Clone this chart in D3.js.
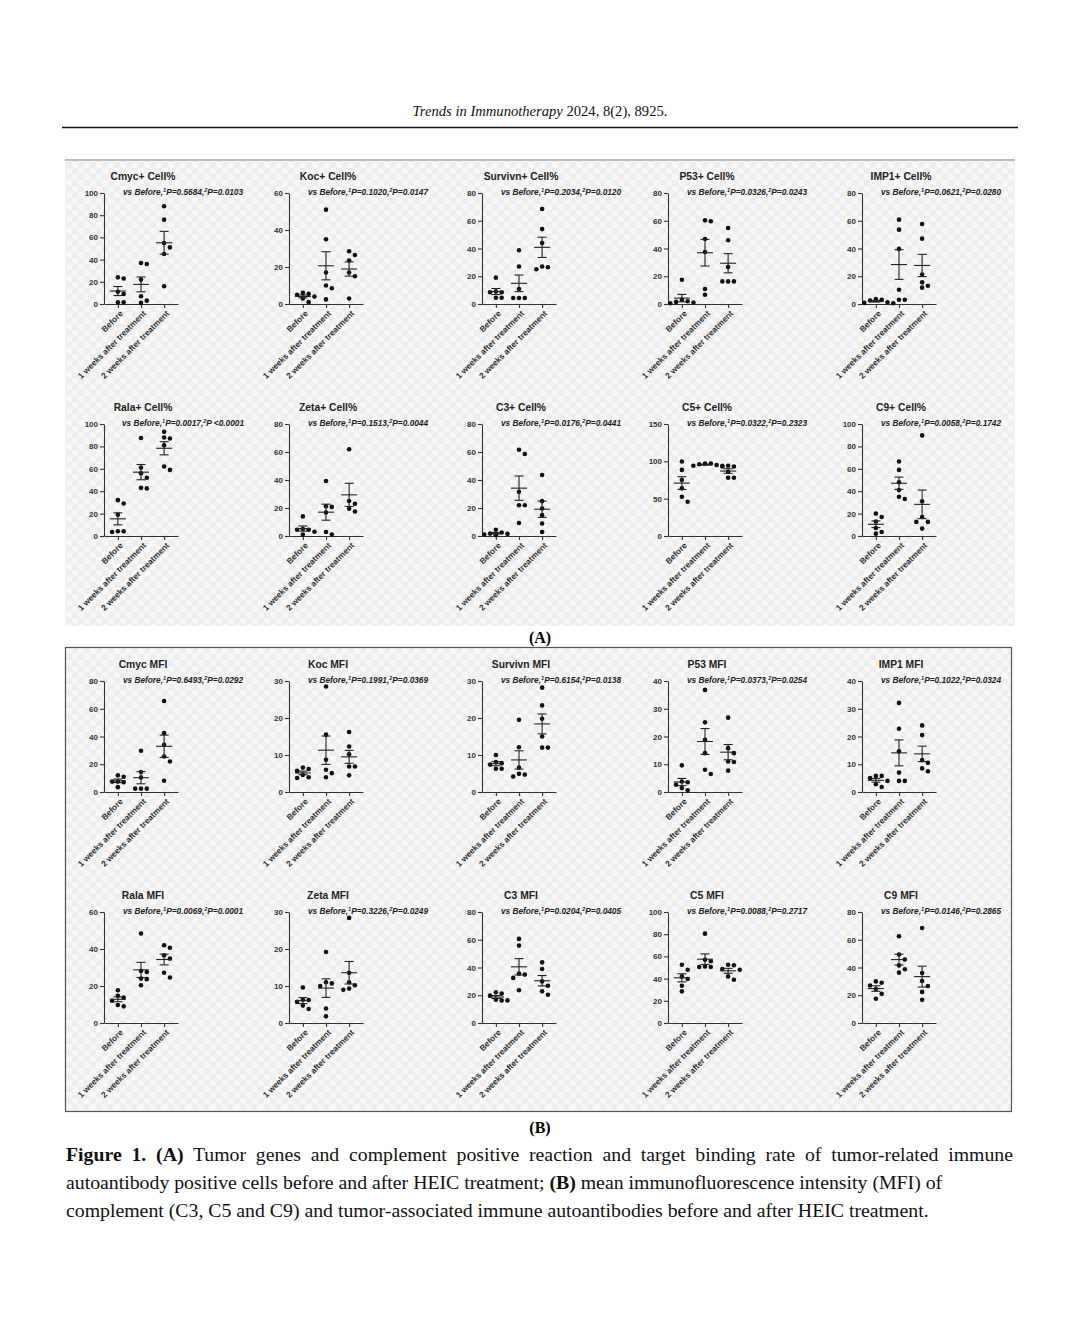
<!DOCTYPE html>
<html><head><meta charset="utf-8">
<script src="https://cdn.jsdelivr.net/npm/d3@7/dist/d3.min.js"></script>
<style>body{margin:0;background:#fff}</style>
</head><body>
<svg id="c" width="1080" height="1322"></svg>
<script>
// ---------------- DATA ----------------
const categories = ["Before", "1 weeks after treatment", "2 weeks after treatment"];
const titles = ["Cmyc+ Cell%","Koc+ Cell%","Survivn+ Cell%","P53+ Cell%","IMP1+ Cell%",
  "Rala+ Cell%","Zeta+ Cell%","C3+ Cell%","C5+ Cell%","C9+ Cell%",
  "Cmyc MFI","Koc MFI","Survivn MFI","P53 MFI","IMP1 MFI",
  "Rala MFI","Zeta MFI","C3 MFI","C5 MFI","C9 MFI"];
const p1Labels = ["0.5684","0.1020","0.2034","0.0326","0.0621","0.0017","0.1513","0.0176","0.0322","0.0058",
  "0.6493","0.1991","0.6154","0.0373","0.1022","0.0069","0.3226","0.0204","0.0088","0.0146"];
const p2Labels = ["0.0103","0.0147","0.0120","0.0243","0.0280","<0.0001","0.0044","0.0441","0.2323","0.1742",
  "0.0292","0.0369","0.0138","0.0254","0.0324","0.0001","0.0249","0.0405","0.2717","0.2865"];
const yTickLabels = [
  [0,20,40,60,80,100],[0,20,40,60],[0,20,40,60,80],[0,20,40,60,80],[0,20,40,60,80],
  [0,20,40,60,80,100],[0,20,40,60,80],[0,20,40,60,80],[0,50,100,150],[0,20,40,60,80,100],
  [0,20,40,60,80],[0,10,20,30],[0,10,20,30],[0,10,20,30,40],[0,10,20,30,40],
  [0,20,40,60],[0,10,20,30],[0,20,40,60,80],[0,20,40,60,80,100],[0,20,40,60,80]];

const cmycCell    = [[23,24,11,9,1.5,1.5],[36,37,22,7,1,3],[88,76,51,55,45,16]];
const kocCell     = [[5.5,6,5,3,4,1],[51,35,10,8.5,2.5,17],[28.5,26.5,23.5,17,15,3]];
const survivnCell = [[19,9,8.5,8.5,4.5,4.5],[38.7,27,10.8,4.3,4.3,4.3],[68.5,54,44,25,27,26.5]];
const p53Cell     = [[17.5,3,2,1,1.5,0.5],[60.3,59.6,46.9,37.5,10.8,6.7],[54.8,45.9,26.7,16.3,16.3,16.3]];
const imp1Cell    = [[3,2.5,3.5,1.2,0.8,0.5],[60.8,53.6,39.7,10.3,3.1,3.1],[57.7,47.1,21.2,11.8,15.6,13.2]];
const ralaCell    = [[32,29,19,3.6,4.2,4.2],[87.5,61,56,52,42.5,43],[93,87,88,81,59,62]];
const zetaCell    = [[14,4.5,5,4.5,1,3],[39.3,20.8,21.3,16.8,1,2.9],[62,25,23,17.5,19.5]];
const c3Cell      = [[4.5,2.5,1.7,1,0.5,1.5],[61.6,58.6,31.6,22,22,9.3],[43.6,24.9,19.6,14.9,8.9,2.9]];
const c5Cell      = [[99.7,88.5,75,63.8,52.5,45.8],[97,96,97,94,95,94],[93,94,93,78,78,86]];
const c9Cell      = [[17,20,13,7.2,2.1,3.6],[66.5,59,48,41,33,35],[89.8,31,17,12.6,12.6,6.6]];
const cmycMFI     = [[12,7.5,11,3.5,7,7.5],[29.7,14.4,10.5,2.4,2.4,2.4],[65.6,42.4,34,25.6,22,8.1]];
const kocMFI      = [[6.6,6.2,5.7,3.8,4.6,4],[28.5,15.5,8.7,5.1,6,4],[16.2,12.3,10.2,6.9,6.9,4.5]];
const survivnMFI  = [[10,7.8,7.4,8.1,6.3,6.3],[19.5,12.1,6.6,4.2,4.9,4.7],[28.2,23.4,19.8,15,12,12]];
const p53MFI      = [[9.6,3.8,3.5,2.6,1.4,0.6],[36.8,25.1,18.8,14,8,6.5],[26.8,15.8,14,11,10.8,7.7]];
const imp1MFI     = [[5.8,5,5.8,4,1.8,2.8],[32.1,22.8,14.7,7,4,4],[24,20.5,11.5,10.5,7.5,8.5]];
const ralaMFI     = [[17.7,14.7,13.8,12,9.7,9],[48.4,27.6,28.1,24,23.7,20.4],[42,40.7,36.6,34.8,27.2,24.6]];
const zetaMFI     = [[9.6,6.3,6.2,5.7,3.8,4.7],[19.2,10.7,10,11,3.9,1.8],[28.4,13.6,10.2,9,9.3,11]];
const c3MFI       = [[22.1,19.7,21.2,16.3,16.8,16.3],[60.6,55.8,35.6,34.9,32.5,23.6],[43.7,38.9,26.9,30,20.4,22.8]];
const c5MFI       = [[52.5,48,42,39.6,33.6,28.5],[80.5,50.4,50.4,55.6,57,51],[52.5,52,48.6,48,42,39]];
const c9MFI       = [[30,29,27,24.5,21,17.5],[62.5,49.4,45.8,41.5,38.7,36.3],[68.5,36,30.3,26.7,22.4,16.7]];

const panelData = [cmycCell,kocCell,survivnCell,p53Cell,imp1Cell,ralaCell,zetaCell,c3Cell,c5Cell,c9Cell,
  cmycMFI,kocMFI,survivnMFI,p53MFI,imp1MFI,ralaMFI,zetaMFI,c3MFI,c5MFI,c9MFI];

// ---------------- LAYOUT ----------------
const svg = d3.select("#c");
const colX = [104, 289, 482, 668, 862];
const rowY = [[193,304],[424,536],[681,792],[912,1023]];
const sans = "'Liberation Sans', Arial, sans-serif";
const serif = "'Liberation Serif', 'Times New Roman', serif";

const defs = svg.append("defs");
const pat = defs.append("pattern").attr("id","chk").attr("width",12).attr("height",12)
  .attr("patternUnits","userSpaceOnUse");
pat.append("rect").attr("width",12).attr("height",12).attr("fill","#f7f7f7");
pat.append("rect").attr("width",6).attr("height",6).attr("fill","#eeeeee");
pat.append("rect").attr("x",6).attr("y",6).attr("width",6).attr("height",6).attr("fill","#eeeeee");

// header
const hdr = svg.append("text").attr("x",540).attr("y",116).attr("text-anchor","middle")
  .attr("font-family",serif).attr("font-size",14.6).attr("fill","#111");
hdr.append("tspan").attr("font-style","italic").text("Trends in Immunotherapy");
hdr.append("tspan").text(" 2024, 8(2), 8925.");
svg.append("line").attr("x1",62).attr("x2",1018).attr("y1",127.5).attr("y2",127.5)
  .attr("stroke","#111").attr("stroke-width",1.4);

// backgrounds
svg.append("rect").attr("x",65).attr("y",159).attr("width",950).attr("height",467).attr("fill","url(#chk)");
svg.append("line").attr("x1",65).attr("x2",1015).attr("y1",160).attr("y2",160).attr("stroke","#888").attr("stroke-width",1.2);
svg.append("rect").attr("x",65.5).attr("y",647.5).attr("width",946).attr("height",464)
  .attr("fill","url(#chk)").attr("stroke","#555").attr("stroke-width",1.2);

svg.append("text").attr("x",540).attr("y",643).attr("text-anchor","middle").attr("font-family",serif)
  .attr("font-weight","bold").attr("font-size",16).text("(A)");
svg.append("text").attr("x",540).attr("y",1133).attr("text-anchor","middle").attr("font-family",serif)
  .attr("font-weight","bold").attr("font-size",16).text("(B)");

// caption
const capLines = [
  [["Figure 1. (A)",true],[" Tumor genes and complement positive reaction and target binding rate of tumor-related immune",false]],
  [["autoantibody positive cells before and after HEIC treatment; ",false],["(B)",true],[" mean immunofluorescence intensity (MFI) of",false]],
  [["complement (C3, C5 and C9) and tumor-associated immune autoantibodies before and after HEIC treatment.",false]]
];
capLines.forEach((ln,k)=>{
  const t = svg.append("text").attr("x",66).attr("y",1161+k*28).attr("font-family",serif)
    .attr("font-size",19.8).attr("fill","#111").attr("xml:space","preserve");
  ln.forEach(([s,b])=> t.append("tspan").attr("font-weight",b?"bold":"normal").text(s));
  if(k===0){
    const len = t.node().getComputedTextLength();
    const spaces = ln.map(d=>d[0]).join("").split(" ").length-1;
    t.attr("word-spacing", Math.max(0,(947-len)/spaces));
  }
});

// beeswarm offsets (pixel space)
function swarm(vals, y){
  const pts = vals.map(v=>({v, py:y(v), off:0})).sort((a,b)=>a.py-b.py);
  const placed=[]; const step=5.8, minD=5.2;
  pts.forEach(p=>{
    for(let k=0;k<11;k++){
      const off = k===0?0:(k%2?1:-1)*Math.ceil(k/2)*step;
      if(placed.every(q=>Math.hypot(q.off-off,q.py-p.py)>=minD)){p.off=off;break;}
    }
    placed.push(p);
  });
  return pts;
}

function drawPanel(i){
  const col=i%5, row=Math.floor(i/5);
  const ax=colX[col], [top,bottom]=rowY[row];
  const ticks=yTickLabels[i];
  const y=d3.scaleLinear().domain([0,ticks[ticks.length-1]]).range([bottom,top]);
  const x=d3.scalePoint().domain(categories).range([ax,ax+74]).padding(0.6);
  const g=svg.append("g");

  const ya=g.append("g").attr("transform",`translate(${ax},0)`)
    .call(d3.axisLeft(y).tickValues(ticks).tickSize(4).tickSizeOuter(0).tickPadding(2).tickFormat(d3.format("d")));
  const xa=g.append("g").attr("transform",`translate(0,${bottom})`)
    .call(d3.axisBottom(x).tickSize(4).tickSizeOuter(0));
  [ya,xa].forEach(a=>{
    a.selectAll("path,line").attr("stroke","#333").attr("stroke-width",1.1);
    a.selectAll("text").attr("font-family",sans).attr("font-weight","bold").attr("font-size",8).attr("fill","#333");
  });
  xa.selectAll("text").attr("font-size",8.3).attr("text-anchor","end").attr("x",-3.5).attr("y",7.8).attr("dy","0.35em")
    .attr("transform","rotate(-45)");

  // title & subtitle
  g.append("text").attr("x",ax+39).attr("y",top-13.5).attr("text-anchor","middle")
    .attr("font-family",sans).attr("font-weight","bold").attr("font-size",10.3).attr("fill","#222").text(titles[i]);
  const st=g.append("text").attr("x",ax+79).attr("y",top+2).attr("text-anchor","middle")
    .attr("font-family",sans).attr("font-weight","bold").attr("font-style","italic").attr("font-size",8.3).attr("fill","#222");
  const p2=p2Labels[i];
  st.append("tspan").text("vs Before,");
  st.append("tspan").attr("font-size",5.6).attr("dy",-3.2).text("1");
  st.append("tspan").attr("dy",3.2).text("P="+p1Labels[i]+",");
  st.append("tspan").attr("font-size",5.6).attr("dy",-3.2).text("2");
  st.append("tspan").attr("dy",3.2).text(p2.startsWith("<")?"P "+p2:"P="+p2);

  // groups
  panelData[i].forEach((vals,ci)=>{
    const cx=x(categories[ci]);
    const pts=swarm(vals,y);
    g.selectAll(null).data(pts).enter().append("circle")
      .attr("cx",d=>cx+d.off).attr("cy",d=>d.py).attr("r",2.3).attr("fill","#111");
    const m=d3.mean(vals), se=d3.deviation(vals)/Math.sqrt(vals.length);
    const eg=g.append("g").attr("stroke","#222").attr("stroke-width",1.1);
    eg.append("line").attr("x1",cx).attr("x2",cx).attr("y1",y(m-se)).attr("y2",y(m+se));
    eg.append("line").attr("x1",cx-8).attr("x2",cx+8).attr("y1",y(m)).attr("y2",y(m));
    [m-se,m+se].forEach(v=>eg.append("line").attr("x1",cx-4.5).attr("x2",cx+4.5).attr("y1",y(v)).attr("y2",y(v)));
  });
}
for(let i=0;i<20;i++) drawPanel(i);
</script></body></html>
